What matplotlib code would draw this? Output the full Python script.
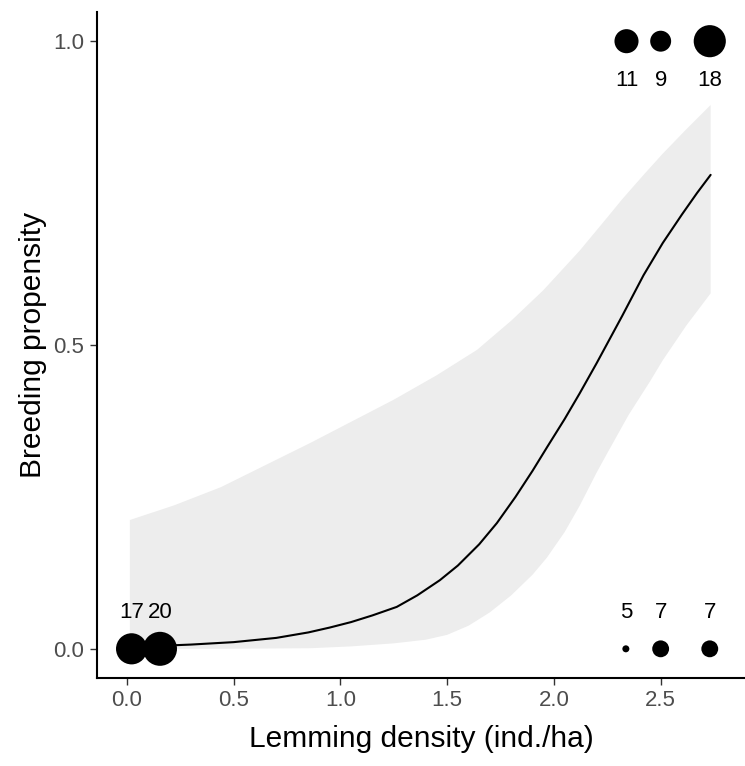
import matplotlib
matplotlib.use("Agg")
import matplotlib.pyplot as plt
import numpy as np

plt.rcParams['font.family'] = ['Liberation Sans', 'DejaVu Sans']

# fitted curve
curve_x = [0.16, 0.30, 0.50, 0.70, 0.85, 0.95, 1.05, 1.15, 1.264, 1.36, 1.466, 1.55, 1.65,
           1.733, 1.82, 1.90, 1.97, 2.05, 2.12, 2.20, 2.32, 2.42, 2.51, 2.60, 2.67, 2.734]
curve_y = [0.005, 0.007, 0.011, 0.018, 0.027, 0.035, 0.044, 0.055, 0.069, 0.088, 0.113, 0.137, 0.172,
           0.207, 0.250, 0.293, 0.333, 0.378, 0.420, 0.470, 0.548, 0.615, 0.668, 0.715, 0.750, 0.780]

# confidence band
lo_x = [0.014, 0.44, 0.86, 1.05, 1.25, 1.40, 1.50, 1.60, 1.70, 1.80, 1.90, 1.967, 2.05,
        2.12, 2.20, 2.25, 2.35, 2.45, 2.51, 2.62, 2.734]
lo_y = [0.0, 0.0, 0.001, 0.004, 0.009, 0.015, 0.023, 0.038, 0.060, 0.088, 0.122, 0.150, 0.192,
        0.235, 0.290, 0.322, 0.385, 0.440, 0.475, 0.532, 0.585]
hi_x = [0.014, 0.22, 0.44, 0.86, 1.25, 1.45, 1.64, 1.80, 1.95, 2.12, 2.25, 2.32, 2.42, 2.51, 2.62, 2.734]
hi_y = [0.212, 0.236, 0.266, 0.339, 0.410, 0.450, 0.492, 0.540, 0.590, 0.655, 0.710, 0.740, 0.780, 0.815, 0.855, 0.895]

# observed proportions and sample sizes
pt_x = [0.022, 0.155, 2.337, 2.50, 2.73, 2.34, 2.50, 2.73]
pt_y = [0, 0, 0, 0, 0, 1, 1, 1]
pt_n = [17, 20, 5, 7, 7, 11, 9, 18]

fig = plt.figure(figsize=(7.45, 7.66), dpi=100)
ax = fig.add_axes([0.1302, 0.1149, 0.8698, 0.8694])

# band polygon: upper edge left to right, lower edge back
poly_x = hi_x + lo_x[::-1]
poly_y = hi_y + lo_y[::-1]
ax.fill(poly_x, poly_y, color='#EDEDED', lw=0, zorder=1)
ax.plot(curve_x, curve_y, color='black', lw=1.5, zorder=2, solid_capstyle='round')

n = np.array(pt_n, dtype=float)
diam_px = 7 + 27 * np.sqrt((n - n.min()) / (n.max() - n.min()))
sizes = (diam_px * 0.72) ** 2
ax.scatter(pt_x, pt_y, s=sizes, color='black', lw=0, zorder=3)

for x, y, k in zip(pt_x, pt_y, pt_n):
    ty = 0.06 if y == 0 else 0.935
    ax.text(x, ty, str(k), ha='center', va='center', fontsize=16, color='black')

ax.set_xlim(-0.14, 2.895)
ax.set_ylim(-0.048, 1.048)
ax.set_xticks([0.0, 0.5, 1.0, 1.5, 2.0, 2.5])
ax.set_xticklabels(['0.0', '0.5', '1.0', '1.5', '2.0', '2.5'])
ax.set_yticks([0.0, 0.5, 1.0])
ax.set_yticklabels(['0.0', '0.5', '1.0'])

for s in ['top', 'right']:
    ax.spines[s].set_visible(False)
for s in ['left', 'bottom']:
    ax.spines[s].set_linewidth(1.5)
    ax.spines[s].set_color('black')
ax.tick_params(axis='both', length=5, width=1.0, color='#333333',
               labelsize=16, labelcolor='#4D4D4D', pad=4)

ax.set_xlabel('Lemming density (ind./ha)', fontsize=21.5, labelpad=10)
ax.set_ylabel('Breeding propensity', fontsize=21.5, labelpad=5)

fig.savefig('out.png', dpi=100)
